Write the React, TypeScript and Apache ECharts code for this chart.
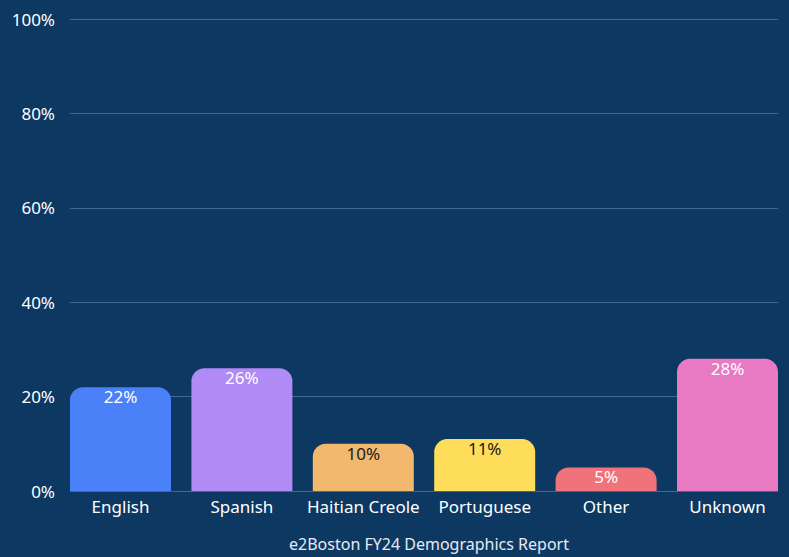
import React, { useEffect, useRef } from "react";
import * as echarts from "echarts";

const categories = ["English", "Spanish", "Haitian Creole", "Portuguese", "Other", "Unknown"];
const values = [22, 26, 10, 11, 5, 28];
const barColors = ["#4a80f8", "#b08af5", "#f2b86e", "#fedd5b", "#f0737c", "#e879c3"];
const labelColors = ["#ffffff", "#ffffff", "#1a1a1a", "#1a1a1a", "#ffffff", "#ffffff"];
const yTicks = [0, 20, 40, 60, 80, 100];
const titleText = "e2Boston FY24 Demographics Report";

const FONT = "'Noto Sans', sans-serif";

export default function App() {
  const ref = useRef<HTMLDivElement>(null);
  useEffect(() => {
    if (!ref.current) return;
    const chart = echarts.init(ref.current, undefined, { renderer: "svg" });
    chart.setOption({
      animation: false,
      backgroundColor: "#0d3861",
      title: {
        text: titleText,
        left: 424,
        top: 531,
        textAlign: "center",
        textStyle: { color: "#e6ebf2", fontSize: 16, fontWeight: "normal", fontFamily: FONT },
      },
      grid: [
        { left: 70, right: 11, top: 19, bottom: 66, containLabel: false },
        { left: 59.8, right: 0.8, top: 19, bottom: 66, containLabel: false },
      ],
      xAxis: [
        { type: "category", gridIndex: 0, data: categories, show: false },
        {
          type: "category",
          gridIndex: 1,
          data: categories,
          axisLine: { show: false },
          axisTick: { show: false },
          axisLabel: { color: "#ffffff", fontSize: 17, fontFamily: FONT, margin: 7, interval: 0 },
        },
      ],
      yAxis: [
        {
          type: "value",
          gridIndex: 0,
          min: 0,
          max: 100,
          interval: 20,
          axisLine: { show: false },
          axisTick: { show: false },
          axisLabel: {
            color: "#ffffff",
            fontSize: 17,
            fontFamily: FONT,
            margin: 15,
            formatter: (v: number) => (yTicks.includes(v) ? v + "%" : ""),
          },
          splitLine: { lineStyle: { color: "#3f6a93", width: 1 } },
        },
        {
          type: "value",
          gridIndex: 1,
          min: 0,
          max: 100,
          interval: 20,
          show: false,
          splitLine: { show: false },
        },
      ],
      series: [
        {
          type: "bar",
          xAxisIndex: 1,
          yAxisIndex: 1,
          barWidth: 101,
          data: values.map((v, i) => ({
            value: v,
            itemStyle: { color: barColors[i], borderRadius: [13, 13, 0, 0] },
            label: { color: labelColors[i] },
          })),
          label: {
            show: true,
            position: "insideTop",
            distance: 1,
            fontSize: 17,
            fontFamily: FONT,
            formatter: (p: any) => p.value + "%",
          },
        },
      ],
    });
    return () => chart.dispose();
  }, []);
  return (
    <div
      ref={ref}
      style={{ position: "fixed", left: 0, top: 0, width: 789, height: 557 }}
    />
  );
}
